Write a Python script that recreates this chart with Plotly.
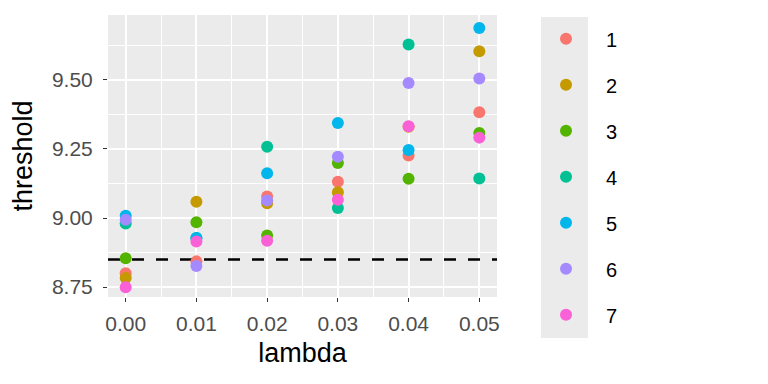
import plotly.graph_objects as go

lambdas = [0.00, 0.01, 0.02, 0.03, 0.04, 0.05]
groups = ["1", "2", "3", "4", "5", "6", "7"]
thresholds = {
    "1": [8.800, 8.843, 9.078, 9.131, 9.226, 9.383],
    "2": [8.783, 9.059, 9.053, 9.093, 9.330, 9.604],
    "3": [8.854, 8.985, 8.937, 9.199, 9.142, 9.308],
    "4": [8.980, 8.928, 9.258, 9.036, 9.628, 9.143],
    "5": [9.008, 8.928, 9.162, 9.344, 9.246, 9.688],
    "6": [8.994, 8.826, 9.063, 9.222, 9.489, 9.505],
    "7": [8.749, 8.915, 8.918, 9.066, 9.332, 9.291],
}
colors = ["#F8766D", "#C49A00", "#53B400", "#00C094", "#00B6EB", "#A58AFF", "#FB61D7"]
ref_line = 8.85

x_range = [-0.0025, 0.0525]
y_range = [8.714, 9.735]
x_ticks = [0.00, 0.01, 0.02, 0.03, 0.04, 0.05]
x_ticktext = ["0.00", "0.01", "0.02", "0.03", "0.04", "0.05"]
y_ticks = [8.75, 9.00, 9.25, 9.50]
y_ticktext = ["8.75", "9.00", "9.25", "9.50"]

fig = go.Figure()
# dashed reference line drawn beneath the points (spans the full x range)
fig.add_trace(go.Scatter(
    x=x_range, y=[ref_line, ref_line], mode="lines", showlegend=False,
    hoverinfo="skip", line=dict(color="black", width=2.5, dash="12px,12px"),
))
for g, c in zip(groups, colors):
    fig.add_trace(go.Scatter(
        x=lambdas, y=thresholds[g], mode="markers", name=g,
        legendgroup=g,
        marker=dict(color=c, size=12, line=dict(width=0)),
    ))

fig.add_shape(type="rect", xref="paper", yref="paper",
              x0=1.113, x1=1.234, y0=-0.145, y1=0.993,
              fillcolor="#EBEBEB", line=dict(width=0), layer="below")

fig.update_layout(
    width=768, height=384,
    margin=dict(l=100, r=279, t=7, b=95, autoexpand=False),
    paper_bgcolor="white", plot_bgcolor="#EBEBEB",
    font=dict(family="Liberation Sans, Arial, sans-serif", size=16, color="black"),
    legend=dict(x=1.0746, y=0.985, xanchor="left", yanchor="top",
                bgcolor="rgba(0,0,0,0)", font=dict(size=20, color="black"),
                tracegroupgap=17, itemwidth=70, maxheight=1000, itemsizing="constant"),
    showlegend=True,
)
fig.update_xaxes(
    range=x_range, tickvals=x_ticks, ticktext=x_ticktext,
    showgrid=True, gridcolor="white", gridwidth=1.5,
    minor=dict(tickvals=[0.005, 0.015, 0.025, 0.035, 0.045], showgrid=True,
               gridcolor="white", gridwidth=0.7, ticks=""),
    ticks="outside", ticklen=4, tickcolor="#333333", tickwidth=1,
    ticklabelstandoff=4,
    tickfont=dict(size=21, color="#4D4D4D"),
    title=dict(text="lambda", font=dict(size=27, color="black"), standoff=8),
    zeroline=False, showline=False, automargin=False,
)
fig.update_yaxes(
    range=y_range, tickvals=y_ticks, ticktext=y_ticktext,
    showgrid=True, gridcolor="white", gridwidth=1.5,
    minor=dict(tickvals=[8.875, 9.125, 9.375, 9.625], showgrid=True,
               gridcolor="white", gridwidth=0.7, ticks=""),
    ticks="outside", ticklen=4, tickcolor="#333333", tickwidth=1,
    ticklabelstandoff=6,
    tickfont=dict(size=21, color="#4D4D4D"),
    title=dict(text="threshold", font=dict(size=27, color="black"), standoff=12),
    zeroline=False, showline=False, automargin=False,
)

fig.write_html("out.html")
